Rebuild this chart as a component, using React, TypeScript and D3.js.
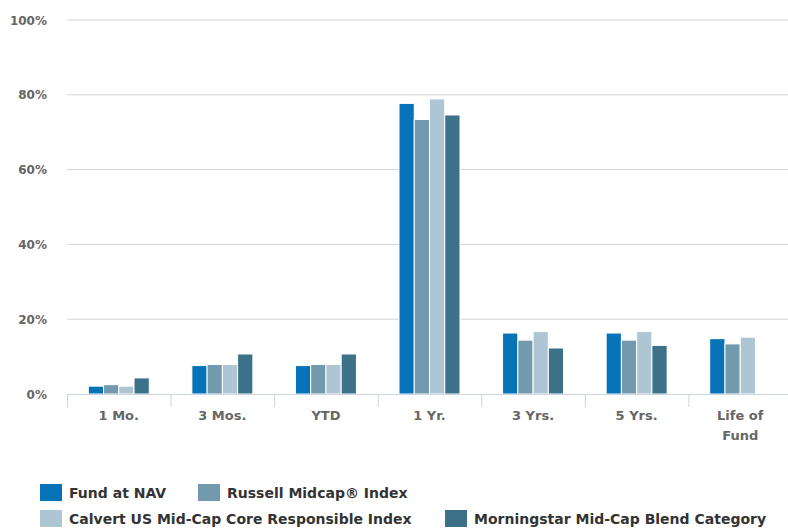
import React from 'react';
import * as d3 from 'd3';

const categories = ['1 Mo.', '3 Mos.', 'YTD', '1 Yr.', '3 Yrs.', '5 Yrs.', 'Life of Fund'];
const seriesNames = [
  'Fund at NAV',
  'Russell Midcap® Index',
  'Calvert US Mid-Cap Core Responsible Index',
  'Morningstar Mid-Cap Blend Category',
];
const seriesColors = ['#0673b8', '#7399ae', '#aec6d3', '#3d7189'];

const fundAtNav = [2.1, 7.6, 7.6, 77.7, 16.3, 16.3, 14.8];
const russellMidcap = [2.5, 7.9, 7.9, 73.4, 14.4, 14.4, 13.4];
const calvertIndex = [2.1, 7.9, 7.9, 78.9, 16.7, 16.7, 15.2];
const morningstar = [4.3, 10.7, 10.7, 74.6, 12.3, 13.0, null];

const yTicks = [0, 20, 40, 60, 80, 100];

const allSeries: (number | null)[][] = [fundAtNav, russellMidcap, calvertIndex, morningstar];

const W = 788;
const H = 529;

export default function App() {
  // plot area
  const x = d3.scaleBand<string>().domain(categories).range([67, 792]).padding(0);
  const y = d3.scaleLinear().domain([0, 100]).range([394, 20]);

  const groupW = 61;
  const inner = d3
    .scaleBand<number>()
    .domain(d3.range(seriesNames.length))
    .range([0, groupW])
    .padding(0);

  const font = '"DejaVu Sans", Verdana, sans-serif';

  // legend layout (two rows)
  const legendItems = [
    { i: 0, x: 40, y: 484 },
    { i: 1, x: 198, y: 484 },
    { i: 2, x: 40, y: 510 },
    { i: 3, x: 445, y: 510 },
  ];

  return (
    <svg
      width={W}
      height={H}
      style={{ position: 'absolute', left: 0, top: 0, background: '#fff' }}
      fontFamily={font}
    >
      {/* grid lines */}
      {yTicks.slice(1).map((t) => (
        <line key={t} x1={67} x2={W} y1={y(t)} y2={y(t)} stroke="#d4d4d4" strokeWidth={1} />
      ))}
      {/* y labels */}
      {yTicks.map((t) => (
        <text
          key={t}
          x={47}
          y={y(t) + 4.5}
          textAnchor="end"
          fontSize={12}
          fontWeight="bold"
          fill="#666"
        >
          {t}%
        </text>
      ))}

      {/* bars */}
      {categories.map((c, ci) => {
        const cx = (x(c) ?? 0) + x.bandwidth() / 2 - groupW / 2;
        return allSeries.map((s, si) => {
          const v = s[ci];
          if (v == null) return null;
          return (
            <rect
              key={`${ci}-${si}`}
              x={cx + (inner(si) ?? 0)}
              y={y(v)}
              width={inner.bandwidth()}
              height={y(0) - y(v)}
              fill={seriesColors[si]}
              stroke="#fff"
              strokeWidth={1}
            />
          );
        });
      })}

      {/* x axis */}
      <line x1={67} x2={W} y1={394.5} y2={394.5} stroke="#ccd6e0" strokeWidth={1} />
      {categories.map((c) => (
        <line
          key={`t-${c}`}
          x1={(x(c) ?? 0) + 0.5}
          x2={(x(c) ?? 0) + 0.5}
          y1={394}
          y2={407}
          stroke="#ccd6e0"
          strokeWidth={1}
        />
      ))}
      {categories.map((c) => {
        const cx = (x(c) ?? 0) + x.bandwidth() / 2;
        const lines = c === 'Life of Fund' ? ['Life of', 'Fund'] : [c];
        return (
          <text key={`l-${c}`} x={cx} y={420} textAnchor="middle" fontSize={13} fontWeight="bold" fill="#666">
            {lines.map((ln, li) => (
              <tspan key={li} x={cx} dy={li === 0 ? 0 : 20}>
                {ln}
              </tspan>
            ))}
          </text>
        );
      })}

      {/* legend */}
      {legendItems.map((it) => (
        <g key={it.i}>
          <rect x={it.x} y={it.y} width={22} height={17} fill={seriesColors[it.i]} />
          <text x={it.x + 29} y={it.y + 14} fontSize={14} fontWeight="bold" fill="#333">
            {seriesNames[it.i]}
          </text>
        </g>
      ))}
    </svg>
  );
}
